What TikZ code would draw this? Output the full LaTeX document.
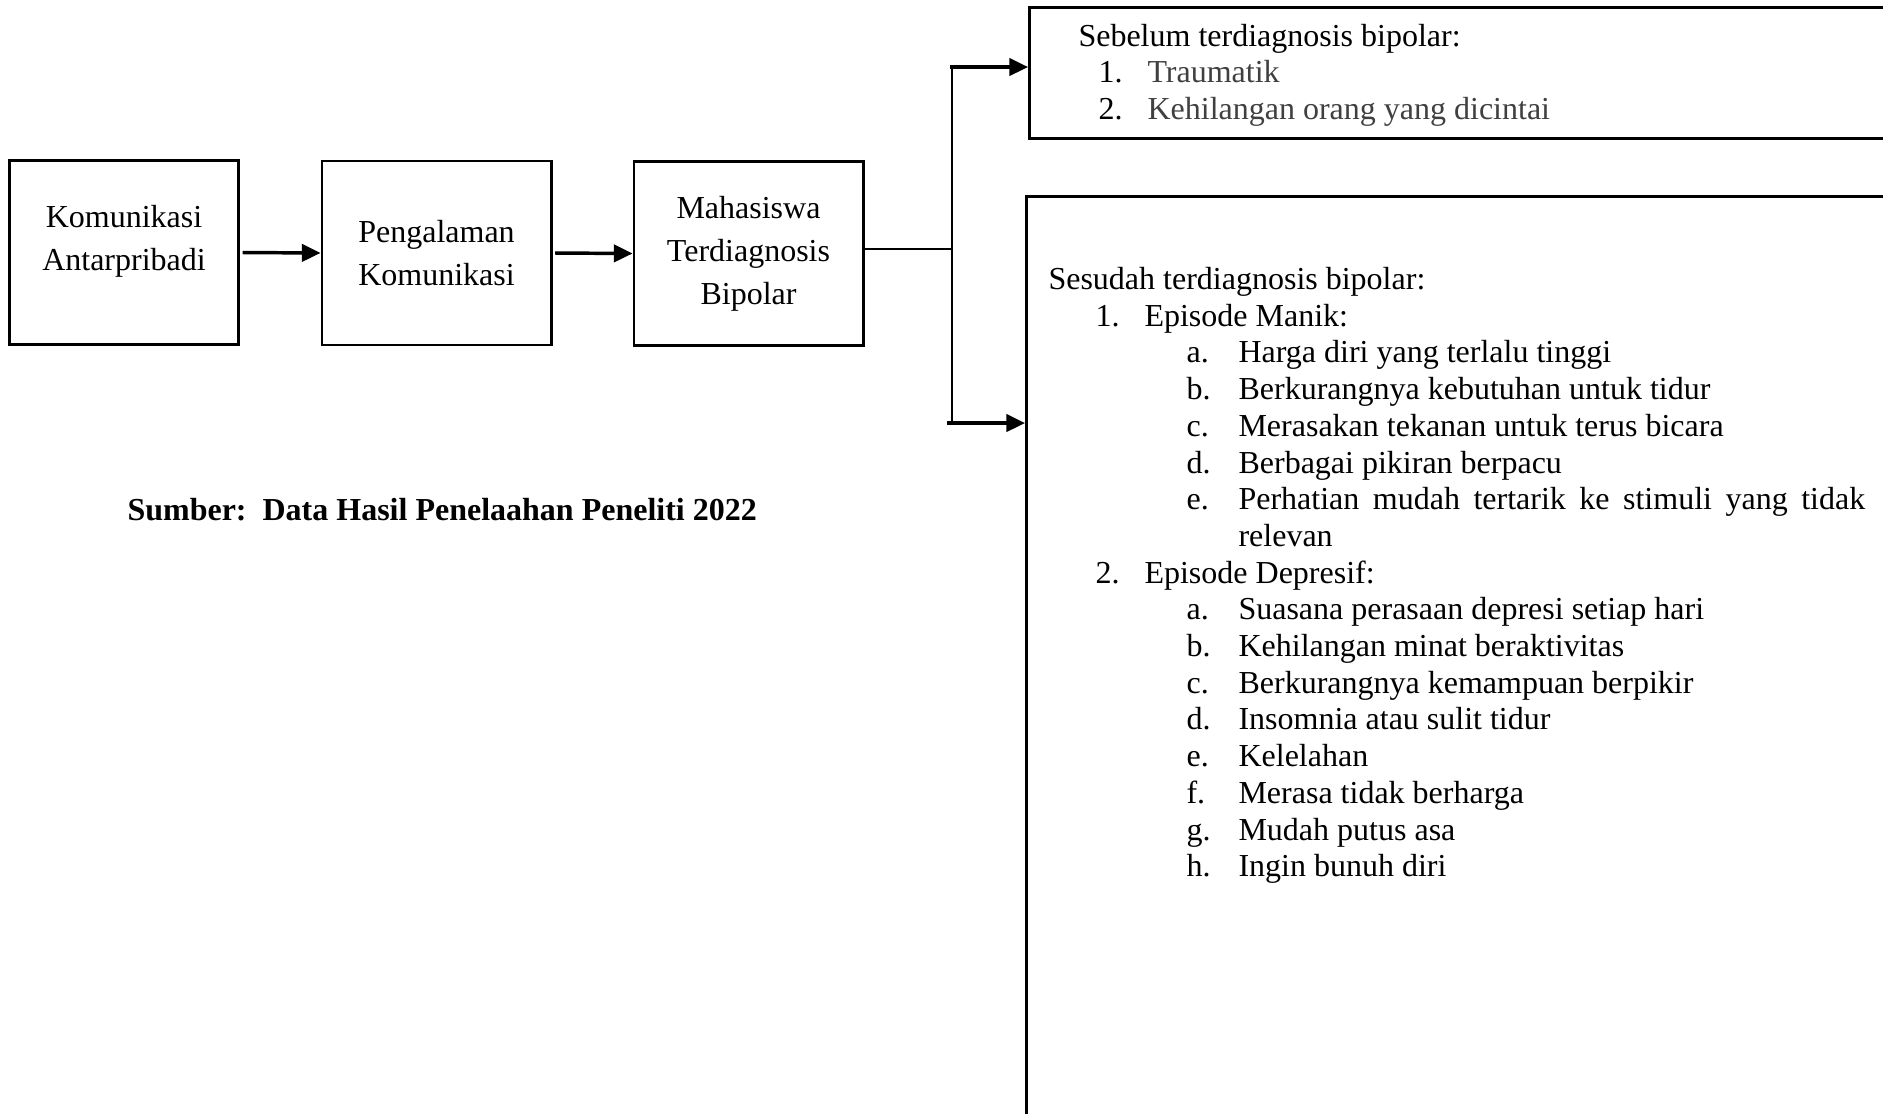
\documentclass[tikz,border=0pt]{standalone}
\usepackage{fontspec}
\setmainfont{Liberation Serif}
\usetikzlibrary{arrows.meta,positioning}
\definecolor{itemgrey}{HTML}{404040}
\tikzset{
  box/.style={draw, line width=1.1pt, minimum width=85.9pt, minimum height=69pt,
    align=center, inner sep=0pt, font=\fontsize{12}{16.1}\selectfont},
  panel/.style={draw, line width=1.1pt, anchor=north west, inner sep=0pt},
  thin/.style={line width=0.5pt},
  arrow/.style={line width=1.3pt, -{Triangle[length=7pt,width=6.5pt]}},
  txt/.style={anchor=base west, inner sep=0pt, font=\fontsize{12}{13.8}\selectfont},
}
\begin{document}
\begin{tikzpicture}[x=0.375pt, y=-0.375pt]
    \useasboundingbox (0,0) rectangle (1883,1113);
    \clip (0,0) rectangle (1883,1113);

    % left chain
    \node[box] (kom) at (124,252.5) {};
    \node[align=center, inner sep=0pt, font=\fontsize{12}{16.1}\selectfont] (komtxt)
        at ([yshift=4.2pt]kom.center) {Komunikasi\\Antarpribadi};
    \node[box] (peng) at (436.5,253) {Pengalaman\\Komunikasi};
    \node[box] (mhs) at (748.5,253.5) {Mahasiswa\\Terdiagnosis\\Bipolar};
    \draw[arrow] ([xshift=1pt]kom.east) -- (peng.west);
    \draw[arrow] ([xshift=1pt]peng.east) -- (mhs.west);

    \node[anchor=base west, inner sep=0pt, font=\fontsize{12}{13.8}\selectfont\bfseries] (src)
        at (127,520) {Sumber:\ \ Data Hasil Penelaahan Peneliti 2022};

    % panels on the right
    \node[panel, minimum width=327pt, minimum height=49pt] (pre) at (1028,6) {};
    \node[panel, minimum width=328pt, minimum height=351pt] (post) at (1025,195) {};

    \coordinate (S) at (952,249);
    \coordinate (U) at (952,67);
    \coordinate (D) at (952,423);
    \draw[thin] (mhs.east |- S) -- (S);
    \draw[thin] (U) -- (D);
    \draw[arrow] ([xshift=-0.75pt]U) -- (U -| pre.west);
    \draw[arrow] ([xshift=-1.9pt]D) -- (D -| post.west);

    % before
    \node[txt] (prehead) at (1078,46) {Sebelum terdiagnosis bipolar:};
    \foreach \n/\t [count=\i] in {1./Traumatik, 2./Kehilangan orang yang dicintai} {
        \node[txt] (pren\i) at (1098,46+36.7*\i) {\n};
        \node[txt, text=itemgrey] (pret\i) at (1147,46+36.7*\i) {\t};
    }

    % after
    \node[txt] (posthead) at (1048,289.5) {Sesudah terdiagnosis bipolar:};
    \node[txt] (man) at (1095,289.5+36.7) {1.};
    \node[txt] (mant) at (1144,289.5+36.7) {Episode Manik:};
    \foreach \n/\t [count=\i] in {a./Harga diri yang terlalu tinggi,
        b./Berkurangnya kebutuhan untuk tidur,
        c./Merasakan tekanan untuk terus bicara,
        d./Berbagai pikiran berpacu} {
        \node[txt] (mann\i) at (1186,289.5+36.7+36.7*\i) {\n};
        \node[txt] (mani\i) at (1238,289.5+36.7+36.7*\i) {\t};
    }
    \node[txt] (mann5) at (1186,289.5+36.7*6) {e.};
    \node[txt] (mani5) at (1238,289.5+36.7*6)
        {\makebox[235pt][s]{Perhatian mudah tertarik ke stimuli yang tidak}};
    \node[txt] (mani6) at (1238,289.5+36.7*7) {relevan};
    \node[txt] (dep) at (1095,289.5+36.7*8) {2.};
    \node[txt] (dept) at (1144,289.5+36.7*8) {Episode Depresif:};
    \foreach \n/\t [count=\i] in {a./Suasana perasaan depresi setiap hari,
        b./Kehilangan minat beraktivitas,
        c./Berkurangnya kemampuan berpikir,
        d./Insomnia atau sulit tidur,
        e./Kelelahan,
        f./Merasa tidak berharga,
        g./Mudah putus asa,
        h./Ingin bunuh diri} {
        \node[txt] (depn\i) at (1186,289.5+36.7*8+36.7*\i) {\n};
        \node[txt] (depi\i) at (1238,289.5+36.7*8+36.7*\i) {\t};
    }
\end{tikzpicture}
\end{document}
